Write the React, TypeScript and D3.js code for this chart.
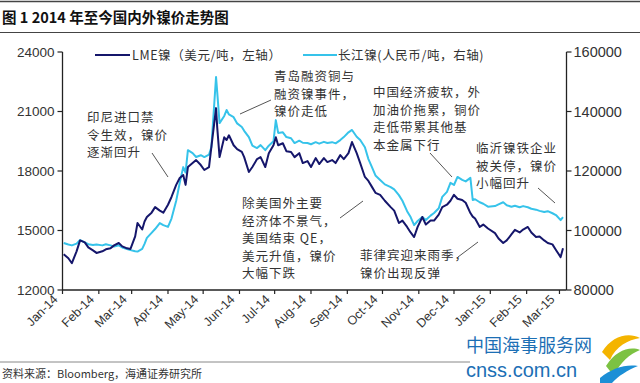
import React from "react";
import * as d3 from "d3";

const title = "图 1 2014 年至今国内外镍价走势图";
const source = "资料来源：Bloomberg，海通证券研究所";
const seriesNames = ["LME镍（美元/吨，左轴）", "长江镍(人民币/吨，右轴)"];

const dates = [
  "2014-01-02","2014-01-06","2014-01-09","2014-01-13","2014-01-16","2014-01-20","2014-01-23","2014-01-27","2014-01-30",
  "2014-02-04","2014-02-07","2014-02-11","2014-02-14","2014-02-18","2014-02-21","2014-02-25","2014-02-28",
  "2014-03-04","2014-03-06","2014-03-10","2014-03-12","2014-03-14","2014-03-18","2014-03-21","2014-03-25","2014-03-28",
  "2014-04-01","2014-04-04","2014-04-08","2014-04-11","2014-04-14","2014-04-16","2014-04-18","2014-04-22","2014-04-25","2014-04-29",
  "2014-05-02","2014-05-06","2014-05-08","2014-05-12","2014-05-13","2014-05-15","2014-05-19","2014-05-21","2014-05-23","2014-05-27","2014-05-30",
  "2014-06-03","2014-06-05","2014-06-09","2014-06-12","2014-06-16","2014-06-19","2014-06-23","2014-06-26","2014-06-30",
  "2014-07-02","2014-07-04","2014-07-08","2014-07-11","2014-07-15","2014-07-18","2014-07-22","2014-07-25","2014-07-29",
  "2014-08-01","2014-08-05","2014-08-08","2014-08-12","2014-08-15","2014-08-19","2014-08-22","2014-08-26","2014-08-29",
  "2014-09-02","2014-09-05","2014-09-09","2014-09-12","2014-09-16","2014-09-19","2014-09-22","2014-09-25","2014-09-29",
  "2014-10-03","2014-10-08","2014-10-11","2014-10-15","2014-10-18","2014-10-22","2014-10-25","2014-10-28","2014-10-31",
  "2014-11-04","2014-11-07","2014-11-11","2014-11-14","2014-11-18","2014-11-21","2014-11-25","2014-11-28",
  "2014-12-01","2014-12-04","2014-12-08","2014-12-11","2014-12-15","2014-12-17","2014-12-19","2014-12-23","2014-12-26","2014-12-30",
  "2015-01-05","2015-01-08","2015-01-12","2015-01-15","2015-01-19","2015-01-22","2015-01-26","2015-01-29",
  "2015-02-02","2015-02-05","2015-02-09","2015-02-12","2015-02-16","2015-02-19","2015-02-23","2015-02-26",
  "2015-03-02","2015-03-04",
];

const lmeNickel = [
  13800,13600,13350,13950,14500,14400,14150,14000,13870,
  13950,14050,14100,14250,14370,14200,14100,14070,
  14700,15380,15050,15450,15680,15900,16180,16000,15900,
  16300,16690,17300,17650,17800,17300,18200,18400,18550,18300,
  18050,18200,19200,21170,20200,18700,19700,19560,19800,19300,19100,
  18960,18700,17950,18200,18600,18700,18200,18900,19300,
  19700,19300,19400,19000,18960,18700,18900,18400,18500,
  18200,18650,18350,18650,18450,18550,18400,18800,18600,
  18900,19460,18900,18400,17700,17500,17200,16900,16800,
  16500,16180,16000,15380,15500,15180,14900,14670,15180,
  15680,15300,15500,15500,15800,16180,16300,16500,
  16800,16600,16540,16400,15880,15700,15600,15180,15300,15100,
  14870,14600,14370,14500,14800,15030,14900,15050,
  15180,14900,14670,14700,14500,14370,14300,14020,
  13660,14100,
];

const changjiangNickel = [
  95800,95300,95000,95600,96800,96000,95400,95100,95300,
  95000,95400,95000,94600,95000,94300,93800,93400,
  93000,92900,93800,95500,97500,99200,100500,102500,101800,
  101200,104000,110000,116000,121300,119500,127000,126000,124700,125300,
  124700,125500,128000,151600,146500,136100,138500,140500,139000,138100,136000,
  134800,133500,131400,128500,127700,128700,127000,128500,130000,
  137100,132800,133000,131400,131000,129400,130200,129500,129400,
  129000,129700,129200,129800,129400,129700,129300,130400,131400,
  133000,133800,131500,130400,128000,124000,121300,118500,117000,
  115500,114600,113800,111900,110000,106500,104500,101800,103200,
  104500,103500,105000,105900,107500,111300,113000,116000,
  115300,118000,117000,116500,117700,110250,110500,109500,109000,108000,
  108200,108800,109500,108500,108000,108300,107800,108200,
  107800,107300,107000,106600,106200,106500,105800,105200,
  103500,104500,
];

const leftTicks = [12000, 15000, 18000, 21000, 24000];
const rightTicks = [80000, 100000, 120000, 140000, 160000];

const annotations = [
  { lines: ["印尼进口禁", "令生效，镍价", "逐渐回升"], x: 87, y: 122, lx1: 152, ly1: 153, lx2: 168, ly2: 177 },
  { lines: ["青岛融资铜与", "融资镍事件，", "镍价走低"], x: 274, y: 81, lx1: 240, ly1: 114, lx2: 271, ly2: 100 },
  { lines: ["中国经济疲软，外", "加油价拖累，铜价", "走低带累其他基", "本金属下行"], x: 373, y: 97, lx1: 430, ly1: 153, lx2: 452, ly2: 177 },
  { lines: ["临沂镍铁企业", "被关停，镍价", "小幅回升"], x: 476, y: 153, lx1: 538, ly1: 188, lx2: 555, ly2: 203 },
  { lines: ["除美国外主要", "经济体不景气，", "美国结束 QE，", "美元升值，镍价", "大幅下跌"], x: 242, y: 208, lx1: 340, ly1: 218, lx2: 363, ly2: 201 },
  { lines: ["菲律宾迎来雨季，", "镍价出现反弹"], x: 360, y: 260, lx1: 458, ly1: 257, lx2: 478, ly2: 242 },
];

const W = 640;
const H = 383;
const X0 = 62.5;
const X1 = 566.5;
const Y0 = 290;
const Y1 = 52;
const DARK = "#15166b";
const LIGHT = "#36c3ea";
const AXIS_FONT = "'Liberation Sans', Arial, sans-serif";
const CJK_FONT = "'Noto Sans CJK SC', sans-serif";

export default function App() {
  const parse = d3.timeParse("%Y-%m-%d");
  const ds = dates.map((d) => parse(d) as Date);
  const x = d3.scaleTime().domain([new Date(2014, 0, 1), new Date(2015, 2, 7)]).range([X0, X1]);
  const yL = d3.scaleLinear().domain([12000, 24000]).range([Y0, Y1]);
  const yR = d3.scaleLinear().domain([80000, 160000]).range([Y0, Y1]);
  const idx = d3.range(ds.length);
  const lineL = d3.line<number>().x((i) => x(ds[i])).y((i) => yL(lmeNickel[i]));
  const lineR = d3.line<number>().x((i) => x(ds[i])).y((i) => yR(changjiangNickel[i]));
  const monthTicks = d3.timeMonth.range(new Date(2014, 0, 1), new Date(2015, 2, 2));
  const fmt = d3.timeFormat("%b-%y");

  return (
    <svg width={W} height={H} style={{ position: "absolute", left: 0, top: 0, background: "#fff" }}>
      <rect x={0} y={0} width={W} height={H} fill="#fff" />
      {/* header */}
      <line x1={0} x2={W} y1={1.5} y2={1.5} stroke="#444" strokeWidth={1.5} />
      <text x={2} y={23} fontFamily={CJK_FONT} fontWeight="bold" fontSize={14.5} fill="#111">{title}</text>
      <line x1={0} x2={W} y1={32.5} y2={32.5} stroke="#444" strokeWidth={1.2} />

      {/* legend */}
      <line x1={95} x2={130} y1={55} y2={55} stroke={DARK} strokeWidth={2.2} />
      <text x={132} y={59.5} fontFamily={CJK_FONT} fontSize={12.5} letterSpacing={0.6} fill="#333">{seriesNames[0]}</text>
      <line x1={303} x2={337} y1={55} y2={55} stroke={LIGHT} strokeWidth={2.2} />
      <text x={338} y={59.5} fontFamily={CJK_FONT} fontSize={12.5} letterSpacing={0.6} fill="#333">{seriesNames[1]}</text>

      {/* axes */}
      <line x1={X0} x2={X0} y1={Y1} y2={Y0} stroke="#222" strokeWidth={1.3} />
      <line x1={X1} x2={X1} y1={Y1} y2={Y0} stroke="#222" strokeWidth={1.3} />
      <line x1={X0} x2={X1} y1={Y0} y2={Y0} stroke="#222" strokeWidth={1.3} />
      {leftTicks.map((t) => (
        <g key={"l" + t}>
          <line x1={X0 - 5} x2={X0} y1={yL(t)} y2={yL(t)} stroke="#222" strokeWidth={1.2} />
          <text x={X0 - 8} y={yL(t)} dy="0.35em" textAnchor="end" fontFamily={AXIS_FONT} fontSize={13.5} fill="#333">{t}</text>
        </g>
      ))}
      {rightTicks.map((t) => (
        <g key={"r" + t}>
          <line x1={X1} x2={X1 + 5} y1={yR(t)} y2={yR(t)} stroke="#222" strokeWidth={1.2} />
          <text x={X1 + 7} y={yR(t)} dy="0.35em" textAnchor="start" fontFamily={AXIS_FONT} fontSize={14.5} fill="#333">{t}</text>
        </g>
      ))}
      {monthTicks.map((m) => (
        <g key={"m" + m.getTime()}>
          <line x1={x(m)} x2={x(m)} y1={Y0} y2={Y0 + 4} stroke="#222" strokeWidth={1.2} />
          <text
            transform={`translate(${x(m) - 4},${Y0 + 10}) rotate(-45)`}
            textAnchor="end"
            fontFamily={AXIS_FONT}
            fontSize={12.5}
            fill="#333"
          >
            {fmt(m)}
          </text>
        </g>
      ))}

      {/* series */}
      <path d={lineR(idx) || ""} fill="none" stroke={LIGHT} strokeWidth={2} strokeLinejoin="round" />
      <path d={lineL(idx) || ""} fill="none" stroke={DARK} strokeWidth={2} strokeLinejoin="round" />

      {/* annotations */}
      {annotations.map((a, i) => (
        <g key={"a" + i}>
          <line x1={a.lx1} y1={a.ly1} x2={a.lx2} y2={a.ly2} stroke="#555" strokeWidth={1} />
          {a.lines.map((s, j) => (
            <text key={j} x={a.x} y={a.y + j * 17.5} fontFamily={CJK_FONT} fontSize={12.5} letterSpacing={1} fill="#333">{s}</text>
          ))}
        </g>
      ))}

      {/* footer */}
      <line x1={0} x2={470} y1={362} y2={362} stroke="#888" strokeWidth={1} />
      <text x={2} y={378} fontFamily={CJK_FONT} fontSize={11} fill="#333">{source}</text>

      {/* watermark */}
      <text x={466} y={352} fontFamily={CJK_FONT} fontSize={18} fill="#1c6fb5">中国海事服务网</text>
      <text x={466} y={377} fontFamily={AXIS_FONT} fontSize={20} fill="#1c6fb5">cnss.com.cn</text>
      <path d="M602,352 C612,336 628,332 640,338 C628,340 616,346 610,360 Z" fill="#f4b400" />
      <path d="M606,366 C616,350 630,346 640,350 C630,354 620,362 614,376 Z" fill="#7cc242" />
      <path d="M600,378 C612,368 626,364 638,366 C628,370 618,376 612,383 L600,383 Z" fill="#1c8fd6" />
    </svg>
  );
}
